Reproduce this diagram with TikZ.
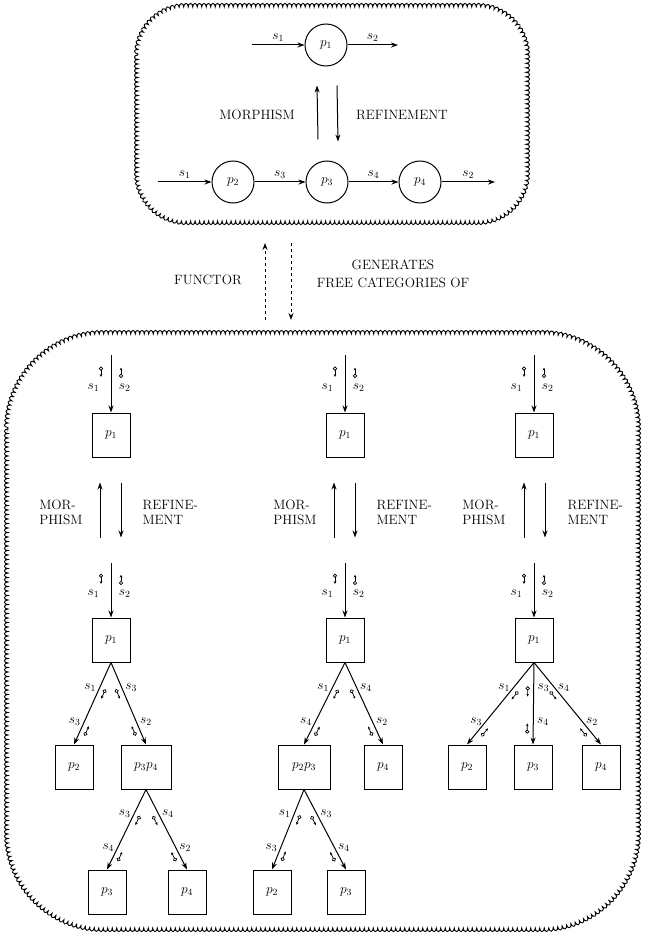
\RequirePackage{fix-cm}
\documentclass[tikz,border=0pt]{standalone}
\usepackage{amsmath}
\usetikzlibrary{arrows.meta,calc,decorations.pathmorphing,decorations.markings}

% petits jetons le long des fleches
\newcommand\jetav[1]{\draw[-,line width=.7pt] (-3.6pt,#1) circle (1.7pt);
  \draw[line width=.7pt,-{Stealth[length=2.8pt,width=2.6pt]}] (-1.9pt,#1) -- (4.6pt,#1);}
\newcommand\jetar[1]{\draw[-,line width=.7pt] (3.6pt,#1) circle (1.7pt);
  \draw[line width=.7pt,-{Stealth[length=2.8pt,width=2.6pt]}] (1.9pt,#1) -- (-4.6pt,#1);}

\begin{document}
\begin{tikzpicture}[x=1pt,y=-1pt]
\tikzset{every node/.style={font=\fontsize{13.5}{15}\selectfont},
fleche/.style={-{Stealth[length=7pt,width=5pt]},line width=1pt},
proc/.style={draw,circle,line width=1pt,minimum size=42pt,inner sep=0pt},
bloc/.style={draw,rectangle,line width=1pt,minimum width=38pt,minimum height=44pt,inner sep=1pt},
nuage/.style={draw,line width=.9pt,sharp corners,decorate,decoration={bumps,mirror,segment length=9pt,amplitude=3.6pt}},
jetons/.style={postaction={decorate,decoration={markings,
  mark=at position .36 with {\jetav{#1}},
  mark=at position .8 with {\jetar{#1}}}}},
entree/.style={postaction={decorate,decoration={markings,
  mark=at position .3 with {\jetav{-10pt}\jetar{10pt}}}}}}
\useasboundingbox (0,0) rectangle (645,936);

% les deux nuages
\path[rounded corners=48pt,postaction={nuage}] (138,7) rectangle (526,221);
\path[rounded corners=95pt,postaction={nuage}] (8,334) rectangle (637,928);

% processus du haut
\node[proc] (P1) at (326,45) {$p_1$};
\node[proc] (P2) at (233,182) {$p_2$};
\node[proc] (P3) at (327,182) {$p_3$};
\node[proc] (P4) at (420,182) {$p_4$};
\coordinate (in1) at (252,45);
\coordinate (out1) at (398,45);
\coordinate (in2) at (158,182);
\coordinate (out2) at (495,182);

\draw[fleche] (in1) -- node[above]{$s_1$} (P1);
\draw[fleche] (P1) -- node[above]{$s_2$} (out1);
\draw[fleche] (in2) -- node[above]{$s_1$} (P2);
\draw[fleche] (P2) -- node[above]{$s_3$} (P3);
\draw[fleche] (P3) -- node[above]{$s_4$} (P4);
\draw[fleche] (P4) -- node[above]{$s_2$} (out2);

\draw[fleche] ($(P3.north)+(-9,-21)$) -- ($(P1.south)+(-9,19)$);
\draw[fleche] ($(P1.south)+(11,19)$) -- ($(P3.north)+(11,-19)$);
\node at (257,115) {MORPHISM};
\node at (402,115) {REFINEMENT};

% foncteur
\coordinate (f1) at (265,320);
\coordinate (f2) at (265,243);
\coordinate (g1) at (291,243);
\coordinate (g2) at (291,320);
\draw[fleche,dashed] (f1) -- (f2);
\draw[fleche,dashed] (g1) -- (g2);
\node at (208,280) {FUNCTOR};
\node[align=center,font=\fontsize{13.5}{18}\selectfont] at (393,274) {GENERATES\\FREE CATEGORIES OF};

% colonne 1
\node[bloc] (a1) at (111,435) {$p_1$};
\node[bloc] (b1) at (111,640) {$p_1$};
\coordinate (ea1) at (111,355);
\coordinate (eb1) at (111,563);
\draw[fleche,entree] (ea1) -- node[pos=.57,left=8pt]{$s_1$} node[pos=.57,right=4pt]{$s_2$} (a1);
\draw[fleche,entree] (eb1) -- node[pos=.57,left=8pt]{$s_1$} node[pos=.57,right=4pt]{$s_2$} (b1);
\draw[fleche] ($(a1.south)+(-11,80)$) -- ($(a1.south)+(-11,25)$);
\draw[fleche] ($(a1.south)+(10,25)$) -- ($(a1.south)+(10,80)$);
\node[align=left,anchor=east] at (86,512) {MOR-\\PHISM};
\node[align=left,anchor=west] at (139,512) {REFINE-\\MENT};

\node[bloc] (c2) at (74,767) {$p_2$};
\node[bloc,minimum width=50pt] (c34) at (146,767) {$p_3p_4$};
\node[bloc] (c3) at (107,892) {$p_3$};
\node[bloc] (c4) at (187,892) {$p_4$};
\draw[fleche,jetons=6pt] (b1.south) -- node[pos=.3,left]{$s_1$} node[pos=.72,left]{$s_3$} (c2.north);
\draw[fleche,jetons=-6pt] (b1.south) -- node[pos=.3,right]{$s_3$} node[pos=.72,right]{$s_2$} (c34.north);
\draw[fleche,jetons=6pt] (c34.south) -- node[pos=.3,left]{$s_3$} node[pos=.72,left]{$s_4$} (c3.north);
\draw[fleche,jetons=-6pt] (c34.south) -- node[pos=.3,right]{$s_4$} node[pos=.72,right]{$s_2$} (c4.north);

% colonne 2
\node[bloc] (a2) at (345,435) {$p_1$};
\node[bloc] (b2) at (345,640) {$p_1$};
\coordinate (ea2) at (345,355);
\coordinate (eb2) at (345,563);
\draw[fleche,entree] (ea2) -- node[pos=.57,left=8pt]{$s_1$} node[pos=.57,right=4pt]{$s_2$} (a2);
\draw[fleche,entree] (eb2) -- node[pos=.57,left=8pt]{$s_1$} node[pos=.57,right=4pt]{$s_2$} (b2);
\draw[fleche] ($(a2.south)+(-11,80)$) -- ($(a2.south)+(-11,25)$);
\draw[fleche] ($(a2.south)+(10,25)$) -- ($(a2.south)+(10,80)$);
\node[align=left,anchor=east] at (320,512) {MOR-\\PHISM};
\node[align=left,anchor=west] at (373,512) {REFINE-\\MENT};

\node[bloc,minimum width=52pt] (d23) at (304,767) {$p_2p_3$};
\node[bloc] (d4) at (383,767) {$p_4$};
\node[bloc] (d2) at (272,892) {$p_2$};
\node[bloc] (d3) at (346,892) {$p_3$};
\draw[fleche,jetons=6pt] (b2.south) -- node[pos=.3,left]{$s_1$} node[pos=.72,left]{$s_4$} (d23.north);
\draw[fleche,jetons=-6pt] (b2.south) -- node[pos=.3,right]{$s_4$} node[pos=.72,right]{$s_2$} (d4.north);
\draw[fleche,jetons=6pt] (d23.south) -- node[pos=.3,left]{$s_1$} node[pos=.72,left]{$s_3$} (d2.north);
\draw[fleche,jetons=-6pt] (d23.south) -- node[pos=.3,right]{$s_3$} node[pos=.72,right]{$s_4$} (d3.north);

% colonne 3
\node[bloc] (a3) at (534,435) {$p_1$};
\node[bloc] (b3) at (534,640) {$p_1$};
\coordinate (ea3) at (534,355);
\coordinate (eb3) at (534,563);
\draw[fleche,entree] (ea3) -- node[pos=.57,left=8pt]{$s_1$} node[pos=.57,right=4pt]{$s_2$} (a3);
\draw[fleche,entree] (eb3) -- node[pos=.57,left=8pt]{$s_1$} node[pos=.57,right=4pt]{$s_2$} (b3);
\draw[fleche] ($(a3.south)+(-10,80)$) -- ($(a3.south)+(-10,25)$);
\draw[fleche] ($(a3.south)+(11,25)$) -- ($(a3.south)+(11,80)$);
\node[align=left,anchor=east] at (509,512) {MOR-\\PHISM};
\node[align=left,anchor=west] at (564,512) {REFINE-\\MENT};

\node[bloc] (e2) at (467,767) {$p_2$};
\node[bloc] (e3) at (533,767) {$p_3$};
\node[bloc] (e4) at (601,767) {$p_4$};
\draw[fleche,jetons=6pt] (b3.south) -- node[pos=.3,left]{$s_1$} node[pos=.72,left]{$s_3$} (e2.north);
\draw[fleche,jetons=-6pt] (b3.south) -- node[pos=.3,right]{$s_3$} node[pos=.72,right]{$s_4$} (e3.north);
\draw[fleche,jetons=-6pt] (b3.south) -- node[pos=.3,right]{$s_4$} node[pos=.72,right]{$s_2$} (e4.north);

\end{tikzpicture}
\end{document}
